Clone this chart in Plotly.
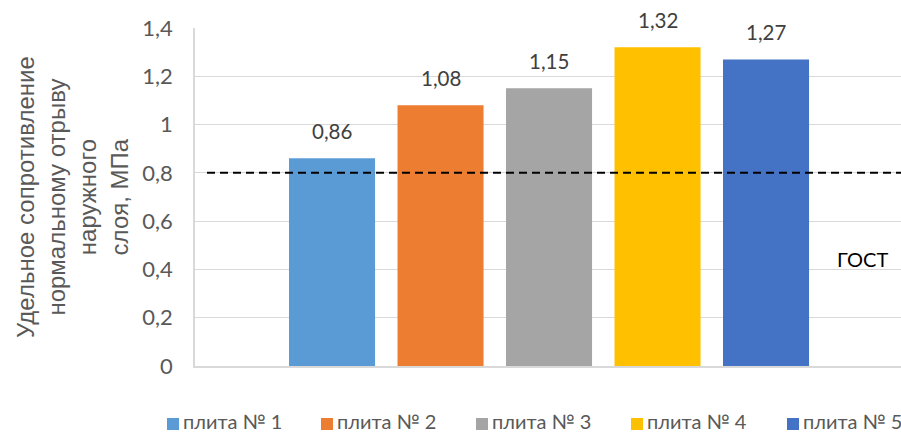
import plotly.graph_objects as go

# Plate series and measured bond strength (MPa)
plates = ["плита № 1", "плита № 2", "плита № 3", "плита № 4", "плита № 5"]
strength = [0.86, 1.08, 1.15, 1.32, 1.27]
colors = ["#5B9BD5", "#ED7D31", "#A5A5A5", "#FFC000", "#4472C4"]
gost_limit = 0.8
y_ticks = [0, 0.2, 0.4, 0.6, 0.8, 1.0, 1.2, 1.4]
y_title = "Удельное сопротивление<br>нормальному отрыву<br>наружного<br>слоя, МПа"

W, H = 901, 433
L, R, T, B = 195, 0, 28, 67
FONT = "Lato, 'Open Sans', sans-serif"
TITLE_FONT = "'Liberation Sans', Arial, sans-serif"


def px_x(p):
    return (p - L) / (W - L - R)


def px_y(p):
    return (H - B - p) / (H - T - B)


fig = go.Figure()
for name, val, col in zip(plates, strength, colors):
    fig.add_trace(go.Bar(x=[name], y=[val], name=name, marker_color=col,
                         marker_line_width=0, showlegend=False))

# value labels above bars
for name, val in zip(plates, strength):
    fig.add_annotation(x=name, y=val, text=f"{val:.2f}".replace(".", ","),
                       showarrow=False, yanchor="bottom", yshift=13,
                       font=dict(size=20.5, color="#404040", family=FONT))

# GOST threshold line
fig.add_shape(type="line", xref="paper", yref="y", x0=px_x(207), x1=1,
              y0=gost_limit, y1=gost_limit,
              line=dict(color="black", width=2, dash="8px,5px"))
fig.add_annotation(xref="paper", yref="y", x=px_x(862), y=gost_limit / 2,
                   text="ГОСТ", showarrow=False, xanchor="center", yanchor="bottom",
                   yshift=-4, font=dict(size=20, color="black", family=FONT))

# rotated y-axis title, four lines
fig.add_annotation(xref="paper", yref="paper", x=px_x(72), y=0.5,
                   text=y_title, textangle=-90, showarrow=False,
                   xanchor="center", yanchor="middle",
                   font=dict(size=24, color="#595959", family=TITLE_FONT))

# legend row below the plot
leg_text_x = [183, 337, 492, 647, 803]
for name, col, tx in zip(plates, colors, leg_text_x):
    fig.add_shape(type="rect", xref="paper", yref="paper",
                  x0=px_x(tx - 16), x1=px_x(tx - 4), y0=px_y(430), y1=px_y(418),
                  fillcolor=col, line_width=0)
    fig.add_annotation(xref="paper", yref="paper", x=px_x(tx - 2), y=px_y(421),
                       text=name, showarrow=False, xanchor="left", yanchor="middle",
                       font=dict(size=20, color="#595959", family=FONT))

fig.update_layout(
    width=W, height=H,
    margin=dict(l=L, r=R, t=T, b=B),
    paper_bgcolor="white", plot_bgcolor="white",
    barmode="overlay", bargap=0.207,
    separators=", ",
    font=dict(family=FONT, color="#595959"),
)
fig.update_xaxes(showticklabels=False, range=[-1.263, 5.244], showgrid=False,
                 showline=True, linecolor="#D9D9D9", linewidth=1.5, zeroline=False)
fig.update_yaxes(range=[0, 1.4], tickvals=y_ticks,
                 ticktext=[f"{v:g}".replace(".", ",") for v in y_ticks],
                 showgrid=True, gridcolor="#D9D9D9", gridwidth=1,
                 showline=True, linecolor="#D9D9D9", linewidth=1.5, zeroline=False,
                 ticks="", ticklabelstandoff=16,
                 tickfont=dict(size=22, color="#595959", family=FONT))

fig.write_html("out.html")
